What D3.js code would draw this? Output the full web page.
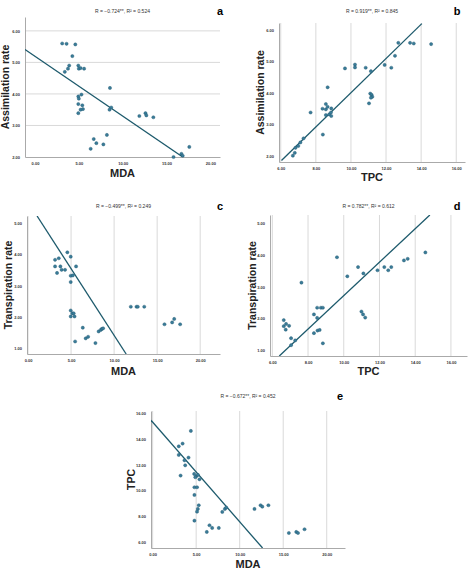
<!DOCTYPE html>
<html><head><meta charset="utf-8">
<script src="https://cdn.jsdelivr.net/npm/d3@7"></script>
<style>body{margin:0;background:#fff}svg{display:block}</style></head>
<body><svg id="c" width="474" height="574"></svg>
<script>
// Panel a: MDA vs Assimilation
const aX=[3.1,3.6,4.6,4.26,3.9,3.76,3.4,4.94,5.0,5.2,5.6,8.55,4.94,5.0,5.3,4.94,5.4,5.47,5.2,4.94,8.5,8.7,11.9,12.6,12.7,13.5,8.2,6.7,7.0,7.8,6.35,15.8,16.7,16.85,17.6];
const aY=[5.6,5.59,5.57,5.2,4.9,4.8,4.7,4.9,4.8,4.82,4.8,4.19,3.92,3.85,3.98,3.68,3.64,3.52,3.5,3.39,3.5,3.57,3.3,3.39,3.32,3.26,2.7,2.57,2.44,2.4,2.26,2.0,2.1,2.04,2.32];
// Panel b: TPC vs Assimilation
const bX=[6.69,6.8,6.84,7.0,7.12,7.3,7.7,8.4,8.38,8.57,8.57,8.67,8.57,8.76,8.88,8.86,8.88,8.67,9.66,10.23,10.23,10.84,11.14,11.03,11.1,11.18,11.22,11.14,11.92,12.3,12.51,12.7,13.37,13.58,14.57];
const bY=[2.01,2.1,2.26,2.32,2.43,2.56,3.38,2.68,3.5,3.65,3.48,3.56,3.3,3.32,3.51,3.38,3.27,4.18,4.78,4.9,4.81,4.8,4.69,3.67,3.98,3.94,3.88,3.85,4.89,4.8,5.18,5.59,5.59,5.57,5.55];
// Panel c: MDA vs Transpiration
const cX=[3.14,3.57,3.14,3.76,3.9,4.3,3.37,4.57,4.96,4.96,5.2,5.58,4.96,4.96,5.15,5.3,4.96,5.4,6.36,6.7,6.98,5.47,7.83,8.2,8.45,8.57,8.72,11.94,12.6,12.75,13.5,15.85,16.74,16.98,17.67];
const cY=[3.83,3.88,3.62,3.62,3.51,3.51,3.41,4.07,3.93,3.32,3.33,3.62,3.12,2.21,2.12,2.12,2.02,2.02,1.66,1.32,1.37,1.22,1.17,1.54,1.59,1.62,1.64,2.33,2.33,2.33,2.33,1.77,1.83,1.94,1.77];
// Panel d: TPC vs Transpiration
const dX=[6.64,6.64,6.77,6.75,6.94,7.05,7.05,7.28,7.63,8.33,8.33,8.51,8.51,8.53,8.65,8.72,8.83,8.83,9.62,10.2,10.8,11.1,10.99,11.08,11.2,11.89,12.27,12.49,12.66,13.37,13.58,14.57];
const dY=[1.95,1.76,1.83,1.65,1.77,1.38,1.16,1.31,3.13,2.13,1.54,2.34,2.02,1.62,1.64,2.34,2.34,1.22,3.93,3.33,3.62,3.42,2.22,2.13,2.03,3.52,3.62,3.52,3.62,3.83,3.88,4.08];
// Panel e: MDA vs TPC
const eX=[4.39,3.0,3.44,3.0,3.66,4.12,3.74,3.21,4.77,5.0,5.2,4.9,5.38,4.8,5.1,4.8,5.3,5.19,5.1,4.8,6.22,6.53,6.84,7.6,8.0,8.3,8.45,11.7,12.4,12.6,13.3,15.65,16.5,16.7,17.45];
const eY=[14.65,13.45,13.66,12.78,12.36,12.57,11.97,11.17,11.3,11.12,11.22,11.04,10.88,10.26,10.26,9.66,8.86,8.57,8.36,7.66,6.78,7.3,7.09,7.09,8.34,8.57,8.68,8.57,8.86,8.75,8.86,6.7,6.78,6.7,6.99];
// Fit lines: [x1,y1,x2,y2]
const fitA=[-1.14,5.41,16.85,2.0], fitB=[6.04,1.86,14.04,6.2], fitC=[1.05,5.23,11.4,0.82], fitD=[6.39,0.82,14.82,5.26], fitE=[-0.19,15.48,12.63,5.53];
const titles=["R = −0.724**, R² = 0.524","R = 0.919**, R² = 0.845","R = −0.499**, R² = 0.249","R = 0.782**, R² = 0.612","R = −0.672**, R² = 0.452"];
const xTicksMDA=[0,5,10,15,20], xTicksTPC=[6,8,10,12,14,16];
const yTicksA=[2,3,4,5,6], yTicksT=[1,2,3,4,5], yTicksE=[6,8,10,12,14,16];

const svg=d3.select("#c");
const panels=[
 {x:aX,y:aY,fit:fitA,t:titles[0],L:"a",xl:"MDA",yl:"Assimilation rate",xd:[-1.14,21.1],yd:[2,6.44],xt:xTicksMDA,yt:yTicksA,r:[25,220,17,157],hgrid:true,lx:220,ly:12,xly:177,ylx:9},
 {x:bX,y:bY,fit:fitB,t:titles[1],L:"b",xl:"TPC",yl:"Assimilation rate",xd:[5.9,16.5],yd:[1.81,6.22],xt:xTicksTPC,yt:yTicksA,r:[279,465,23,162],lx:457,ly:12,xly:181,ylx:264},
 {x:cX,y:cY,fit:fitC,t:titles[2],L:"c",xl:"MDA",yl:"Transpiration rate",xd:[-0.12,22.3],yd:[0.82,5.23],xt:xTicksMDA,yt:yTicksT,r:[27,220,216,354],lx:220,ly:207,xly:375,ylx:12},
 {x:dX,y:dY,fit:fitD,t:titles[3],L:"d",xl:"TPC",yl:"Transpiration rate",xd:[5.87,16.9],yd:[0.82,5.26],xt:xTicksTPC,yt:yTicksT,r:[270,467,215,356],lx:457,ly:207,xly:375,ylx:256},
 {x:eX,y:eY,fit:fitE,t:titles[4],L:"e",xl:"MDA",yl:"TPC",xd:[-0.19,22.1],yd:[5.53,16.2],xt:xTicksMDA,yt:yTicksE,r:[151,345,411,548],lx:340,ly:397,xly:568,ylx:135}
];
panels.forEach((p,i)=>{
 const [x0,x1,y0,y1]=p.r;
 const xs=d3.scaleLinear().domain(p.xd).range([x0,x1]);
 const ys=d3.scaleLinear().domain(p.yd).range([y1,y0]);
 const g=svg.append("g");
 const cid="clip"+i;
 svg.append("clipPath").attr("id",cid).append("rect").attr("x",x0).attr("y",y0).attr("width",x1-x0).attr("height",y1-y0);
 if(p.hgrid){
  g.selectAll(".gh").data(p.yt.filter(v=>v>p.yd[0])).join("line").attr("x1",x0).attr("x2",x1).attr("y1",d=>ys(d)).attr("y2",d=>ys(d)).attr("stroke","#d9d9d9").attr("stroke-width",1);
 } else {
  g.selectAll(".gv").data(p.xt.filter(v=>v>p.xd[0])).join("line").attr("x1",d=>xs(d)).attr("x2",d=>xs(d)).attr("y1",y0).attr("y2",y1).attr("stroke","#d9d9d9").attr("stroke-width",1);
 }
 const xa=g.append("g").attr("transform",`translate(0,${y1})`).call(d3.axisBottom(xs).tickValues(p.xt).tickFormat(d3.format(".2f")).tickSize(0).tickPadding(5));
 const ya=g.append("g").attr("transform",`translate(${x0},0)`).call(d3.axisLeft(ys).tickValues(p.yt).tickFormat(d3.format(".2f")).tickSize(0).tickPadding(5));
 [xa,ya].forEach(a=>{a.select(".domain").attr("stroke","#aaa");a.selectAll("text").attr("font-size",4).attr("font-family","Arial, Liberation Sans").attr("font-weight","bold").attr("fill","#333");});
 const f=p.fit;
 g.append("line").attr("clip-path",`url(#${cid})`).attr("x1",xs(f[0])).attr("y1",ys(f[1])).attr("x2",xs(f[2])).attr("y2",ys(f[3])).attr("stroke","#1d5a6c").attr("stroke-width",1.3);
 g.selectAll("circle").data(p.x.map((v,k)=>[v,p.y[k]])).join("circle").attr("cx",d=>xs(d[0])).attr("cy",d=>ys(d[1])).attr("r",1.6).attr("fill","#3a7c98").attr("stroke","#1e5670").attr("stroke-width",0.4);
 g.append("text").attr("x",(x0+x1)/2).attr("y",p.ly+1).attr("text-anchor","middle").attr("font-size",5).attr("font-family","Arial, Liberation Sans").attr("fill","#333").text(p.t);
 g.append("text").attr("x",p.lx).attr("y",p.ly+3).attr("text-anchor","middle").attr("font-size",11).attr("font-weight","bold").attr("font-family","Arial, Liberation Sans").text(p.L);
 g.append("text").attr("x",(x0+x1)/2).attr("y",p.xly).attr("text-anchor","middle").attr("font-size",11).attr("font-weight","bold").attr("font-family","Arial, Liberation Sans").attr("fill","#222").text(p.xl);
 g.append("text").attr("transform",`translate(${p.ylx},${(y0+y1)/2}) rotate(-90)`).attr("text-anchor","middle").attr("font-size",10.5).attr("font-weight","bold").attr("font-family","Arial, Liberation Sans").attr("fill","#222").text(p.yl);
});
</script></body></html>
